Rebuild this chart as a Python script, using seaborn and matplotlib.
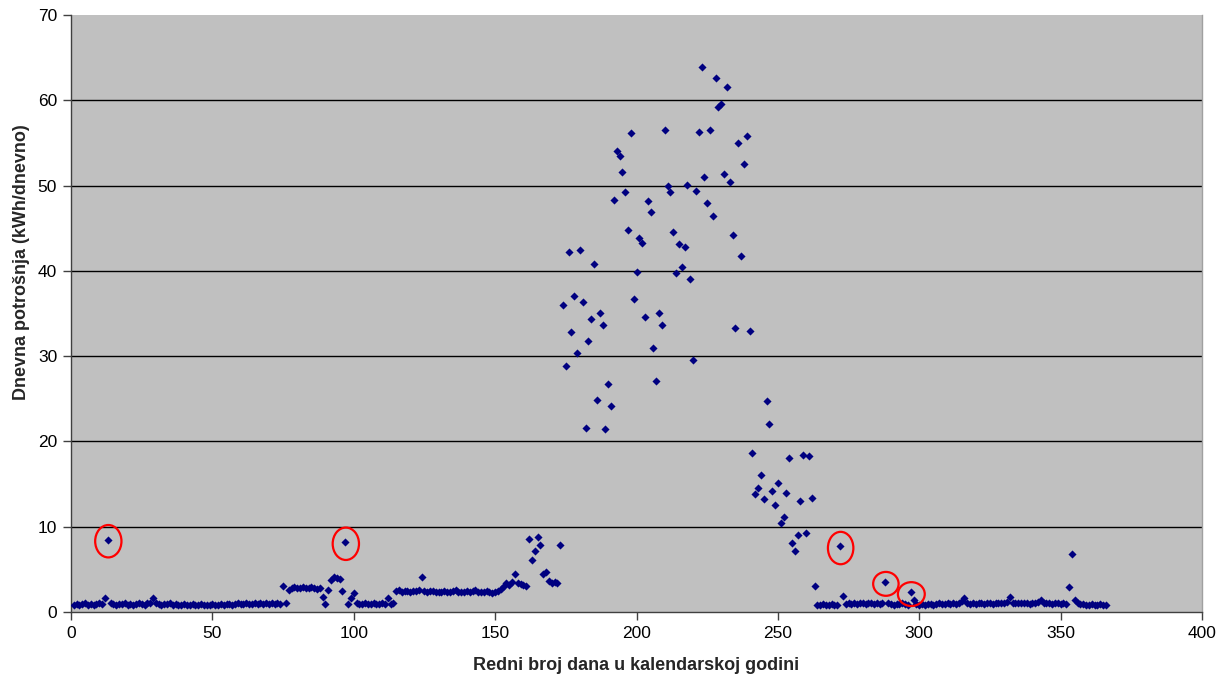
import matplotlib
matplotlib.use("Agg")
import matplotlib.pyplot as plt
from matplotlib.patches import Ellipse
import seaborn as sns
import pandas as pd

# ---- data ----
consumption = [
    0.8, 0.9, 0.8, 0.9, 1.0, 0.8, 0.9, 0.8, 0.9, 1.0,
    0.9, 1.6, 8.5, 1.1, 0.9, 0.8, 0.9, 0.9, 1.0, 0.8,
    0.9, 0.8, 0.9, 1.0, 0.9, 0.8, 1.0, 1.1, 1.6, 1.1,
    0.9, 0.8, 0.9, 0.9, 1.0, 0.8, 0.9, 0.8, 0.8, 0.9,
    0.8, 0.8, 0.9, 0.8, 0.8, 0.9, 0.8, 0.8, 0.8, 0.9,
    0.8, 0.8, 0.9, 0.8, 0.9, 0.9, 0.8, 0.9, 1.0, 0.9,
    0.9, 1.0, 0.9, 0.9, 1.0, 0.9, 1.0, 0.9, 1.0, 0.9,
    1.0, 0.9, 1.0, 0.9, 3.1, 1.0, 2.6, 2.8, 2.9, 2.8,
    2.8, 2.9, 2.8, 2.8, 2.9, 2.8, 2.7, 2.8, 1.8, 0.9,
    2.6, 3.8, 4.1, 4.0, 3.9, 2.5, 8.2, 0.9, 1.6, 2.2,
    1.0, 0.9, 0.9, 1.0, 0.9, 0.9, 1.0, 0.9, 0.9, 1.0,
    0.9, 1.7, 0.9, 1.0, 2.5, 2.6, 2.4, 2.5, 2.5, 2.4,
    2.5, 2.5, 2.6, 4.1, 2.5, 2.4, 2.5, 2.5, 2.4, 2.3,
    2.4, 2.5, 2.4, 2.3, 2.5, 2.6, 2.4, 2.3, 2.4, 2.5,
    2.4, 2.5, 2.6, 2.4, 2.4, 2.3, 2.5, 2.4, 2.2, 2.4,
    2.5, 2.7, 3.0, 3.4, 3.2, 3.5, 4.5, 3.4, 3.3, 3.2,
    3.0, 8.6, 6.1, 7.2, 8.8, 7.8, 4.5, 4.7, 3.6, 3.4,
    3.5, 3.4, 7.8, 36.0, 28.8, 42.2, 32.8, 37.0, 30.4, 42.4,
    36.3, 21.6, 31.8, 34.4, 40.8, 24.8, 35.1, 33.7, 21.5, 26.7,
    24.2, 48.3, 54.0, 53.5, 51.6, 49.3, 44.8, 56.2, 36.7, 39.9,
    43.9, 43.3, 34.6, 48.2, 46.9, 30.9, 27.1, 35.1, 33.6, 56.5,
    49.9, 49.3, 44.5, 39.8, 43.1, 40.4, 42.8, 50.1, 39.1, 29.5,
    49.4, 56.3, 63.9, 51.0, 47.9, 56.5, 46.4, 62.6, 59.2, 59.6,
    51.3, 61.5, 50.4, 44.2, 33.3, 55.0, 41.7, 52.5, 55.8, 32.9,
    18.6, 13.8, 14.5, 16.1, 13.2, 24.7, 22.0, 14.2, 12.6, 15.1,
    10.4, 11.1, 14.0, 18.1, 8.1, 7.1, 9.0, 13.0, 18.4, 9.3,
    18.3, 13.4, 3.0, 0.8, 0.8, 0.9, 0.8, 0.8, 0.9, 0.8,
    0.8, 7.7, 1.9, 0.9, 1.0, 0.9, 1.0, 0.9, 1.0, 1.0,
    0.9, 1.0, 1.0, 0.9, 1.0, 0.9, 1.0, 3.5, 1.0, 0.9,
    0.8, 0.9, 0.9, 1.0, 0.9, 0.8, 2.3, 1.4, 0.9, 0.8,
    0.9, 0.8, 0.9, 0.9, 0.8, 0.9, 1.0, 0.9, 0.9, 1.0,
    0.9, 1.0, 0.9, 1.1, 1.3, 1.7, 1.1, 0.9, 1.0, 0.9,
    1.0, 1.0, 0.9, 1.0, 1.0, 0.9, 1.0, 1.0, 1.1, 1.0,
    1.2, 1.8, 1.1, 1.0, 1.0, 1.1, 1.0, 1.0, 0.9, 1.0,
    1.0, 1.2, 1.4, 1.1, 1.0, 1.0, 0.9, 1.0, 1.0, 0.9,
    1.0, 0.9, 2.9, 6.8, 1.4, 1.0, 0.9, 0.9, 0.8, 0.8,
    0.9, 0.8, 0.8, 0.9, 0.8, 0.8,
]
days = list(range(1, len(consumption) + 1))
highlighted_days = [13, 97, 272, 288, 297]
x_ticks = [0, 50, 100, 150, 200, 250, 300, 350, 400]
y_ticks = [0, 10, 20, 30, 40, 50, 60, 70]
x_label = "Redni broj dana u kalendarskoj godini"
y_label = "Dnevna potrošnja (kWh/dnevno)"

df = pd.DataFrame({"day": days, "kwh": consumption})

sns.set_theme(style="white")
plt.rcParams["font.family"] = ["Liberation Sans", "DejaVu Sans"]

W, H = 1217, 677
fig = plt.figure(figsize=(W / 100, H / 100), dpi=100)
ax = fig.add_axes([71 / W, 1 - 612 / H, (1202 - 71) / W, (612 - 15) / H])
ax.set_facecolor("#C0C0C0")

for yv in y_ticks[1:-1]:
    ax.axhline(yv, color="black", lw=1.0, zorder=1)

sns.scatterplot(data=df, x="day", y="kwh", marker="D", s=17, color="#000080",
                linewidth=0, ax=ax, zorder=3, legend=False)

# red circles around highlighted points
big = {13: (9.3, 3.8), 97: (9.3, 3.8), 272: (9.0, 3.8), 288: (9.0, 2.8), 297: (9.5, 2.8)}
for d in highlighted_days:
    v = consumption[d - 1]
    w, h = big[d]
    ax.add_patch(Ellipse((d + 0.2, v - 0.2), w, h, fill=False, edgecolor="#FF0000",
                         lw=1.6, zorder=4))

ax.set_xlim(0, 400)
ax.set_ylim(0, 70)
ax.set_xticks(x_ticks)
ax.set_yticks(y_ticks)
ax.tick_params(axis="both", which="both", direction="out", length=6, width=1,
               color="#404040", labelsize=12.5, labelcolor="black", pad=4,
               left=True, bottom=True)
ax.spines["top"].set_visible(False)
ax.spines["right"].set_color("#A0A0A0")
ax.spines["right"].set_linewidth(1.0)
for side in ["left", "bottom"]:
    ax.spines[side].set_color("#404040")
    ax.spines[side].set_linewidth(1.0)

ax.set_xlabel("")
ax.set_ylabel("")
fig.text(636 / W, 1 - 665 / H, x_label, ha="center", va="center",
         fontsize=13, fontweight="bold")
fig.text(22 / W, 1 - 262 / H, y_label, ha="center", va="center",
         rotation=90, fontsize=13, fontweight="bold")

fig.savefig("out.png", dpi=100)
